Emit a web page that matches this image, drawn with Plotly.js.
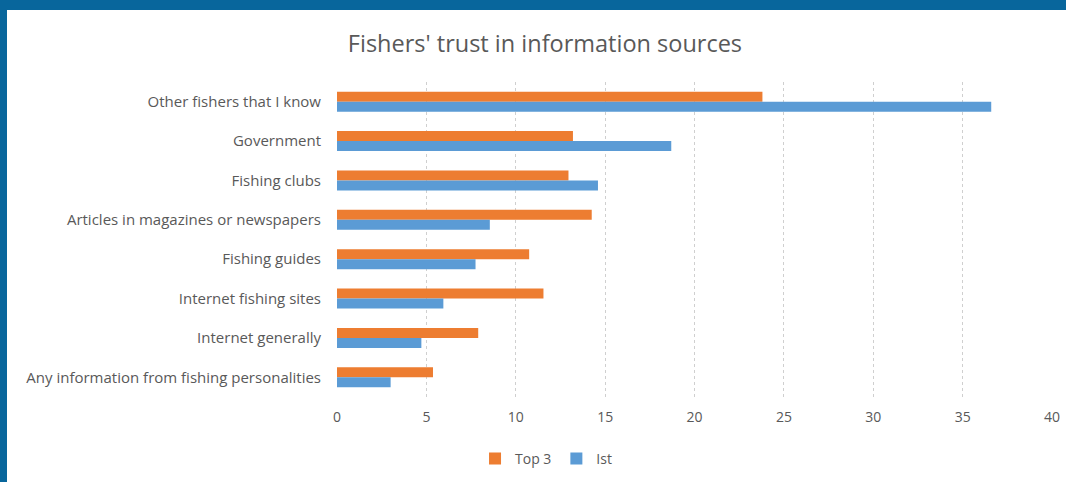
<!DOCTYPE html>
<html>
<head>
<meta charset="utf-8">
<script src="https://cdn.plot.ly/plotly-3.0.1.min.js"></script>
<style>
  html, body { margin: 0; padding: 0; width: 1066px; height: 482px; background: #08669c; overflow: hidden; }
  #chart { position: absolute; left: 7px; top: 10px; width: 1059px; height: 472px; background: #ffffff; }
</style>
</head>
<body>
<div id="chart"></div>
<script>
const categories = [
  "Other fishers that I know",
  "Government",
  "Fishing clubs",
  "Articles in magazines or newspapers",
  "Fishing guides",
  "Internet fishing sites",
  "Internet generally",
  "Any information from fishing personalities"
];
const top3Values = [23.8, 13.2, 12.95, 14.25, 10.75, 11.55, 7.9, 5.37];
const firstValues = [36.6, 18.7, 14.6, 8.55, 7.75, 5.95, 4.72, 3.0];
const seriesNames = ["Top 3", "Ist"];
const xTicks = [0, 5, 10, 15, 20, 25, 30, 35, 40];
const titleText = "Fishers' trust in information sources";

const textColor = "#595959";
const fontFam = "'Open Sans', 'Liberation Sans', sans-serif";

const traces = [
  { type: "bar", orientation: "h", name: seriesNames[0], y: categories, x: top3Values,
    marker: { color: "#ED7D31" }, hoverinfo: "x+y" },
  { type: "bar", orientation: "h", name: seriesNames[1], y: categories, x: firstValues,
    marker: { color: "#5B9BD5" }, hoverinfo: "x+y" }
];

const layout = {
  width: 1059, height: 472,
  paper_bgcolor: "#ffffff", plot_bgcolor: "#ffffff",
  margin: { l: 329.5, r: 14, t: 72, b: 85 },
  barmode: "group", bargap: 0.49, bargroupgap: 0,
  font: { family: fontFam, color: textColor, size: 14 },
  title: { text: titleText, font: { family: fontFam, size: 23.5, color: textColor },
    xref: "container", x: 0.508, xanchor: "center", yref: "container", y: 0.928, yanchor: "middle" },
  xaxis: {
    range: [0, 40], tickvals: xTicks, ticktext: xTicks.map(String),
    showgrid: true, gridcolor: "#cfcfcf", griddash: "dot", gridwidth: 1,
    zeroline: false, showline: false, ticks: "", ticklabelstandoff: 10,
    tickfont: { size: 14, color: textColor }, fixedrange: true
  },
  yaxis: {
    autorange: "reversed", type: "category",
    showgrid: false, zeroline: false, showline: false, ticks: "",
    ticklabelstandoff: 15, tickfont: { size: 15, color: textColor }, fixedrange: true
  },
  legend: {
    orientation: "h", xref: "container", x: 0.509, xanchor: "center",
    yref: "container", y: 0.049, yanchor: "middle",
    font: { size: 14, color: textColor }, itemwidth: 30, traceorder: "normal"
  },
  showlegend: true
};

Plotly.newPlot("chart", traces, layout, { displayModeBar: false, staticPlot: true });
</script>
</body>
</html>
